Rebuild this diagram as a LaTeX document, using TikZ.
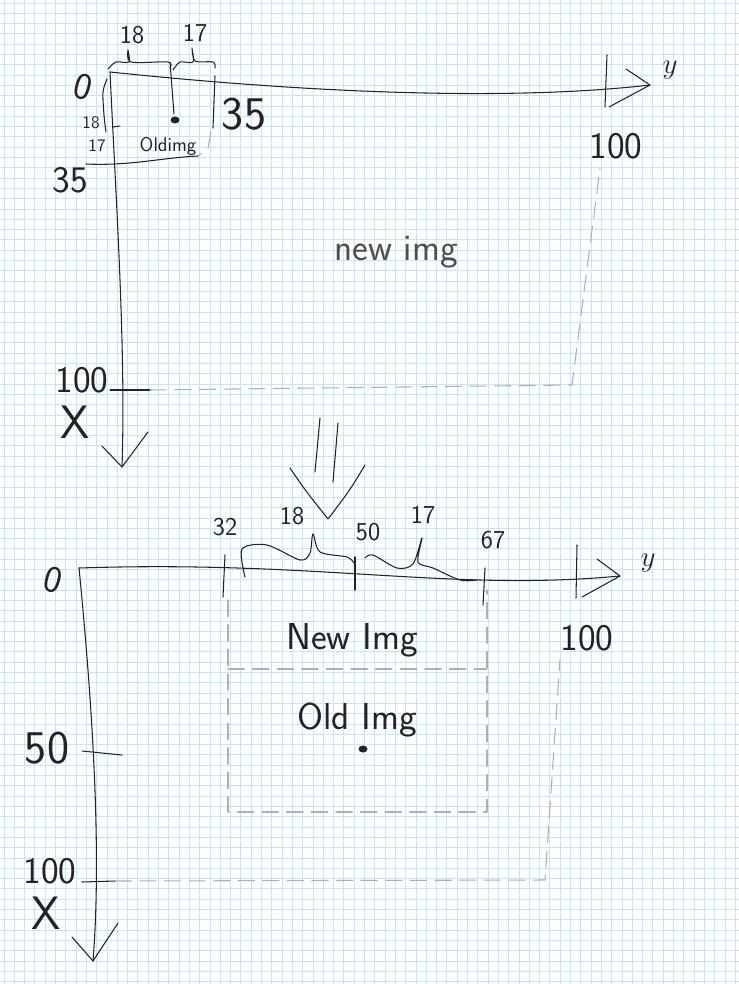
\documentclass[tikz,border=0pt]{standalone}
\usepackage{tikz}
\usetikzlibrary{positioning}
\definecolor{ink}{RGB}{35,35,35}
\definecolor{pencil}{RGB}{175,175,175}
\definecolor{gridblue}{RGB}{196,231,248}

\begin{document}
\begin{tikzpicture}[x=0.03cm, y=-0.03cm, line cap=round, line join=round,
      stroke/.style={draw=ink, line width=0.9pt},
      faint/.style={draw=pencil, line width=0.9pt, dash pattern=on 14pt off 7pt},
      txt/.style={text=ink, inner sep=0pt, font=\sffamily\fontsize{22}{22}\selectfont},
      tiny/.style={txt, font=\sffamily\fontsize{15}{15}\selectfont},
      big/.style={txt, font=\sffamily\fontsize{32}{32}\selectfont},
      huge/.style={txt, font=\sffamily\fontsize{40}{40}\selectfont}]
      \useasboundingbox (0,0) rectangle (739,984);
      \fill[white] (0,0) rectangle (739,984);
      % grid paper
      \foreach \i in {0,...,71}
        \draw[gridblue, line width=0.7pt] (4+\i*10.3,0) -- (4+\i*10.3,984);
      \foreach \j in {0,...,95}
        \draw[gridblue, line width=0.7pt] (0,3+\j*10.3) -- (739,3+\j*10.3);

      % top: axes
      \coordinate (o1) at (110,72);
      \coordinate (ytip1) at (650,85);
      \coordinate (xtip1) at (122,467);
      \draw[stroke] (o1) .. controls (330,95) and (520,100) .. (ytip1);
      \draw[stroke] (ytip1) ++(-24,-16) -- (ytip1) -- ++(-41,22);
      \draw[stroke] (o1) .. controls (116,200) and (126,350) .. (xtip1);
      \draw[stroke] (xtip1) ++(-20,-21) -- (xtip1) -- ++(26,-35);
      \node[big, rotate=-15] (zero1) at (83,87) {0};
      \node[txt, font=\fontsize{28}{28}\selectfont] (y1) at (670,70) {$y$};
      \node[big] (hy1) at (616,146) {100};
      \node[big] (hx1) at (82,380) {100};
      \node[huge] (x1) at (75,422) {X};
      \draw[stroke] (607,55) -- (605,107);
      \draw[stroke] (110,390) -- (150,390);
      % top: new img border
      \coordinate (nc1) at (572,385);
      \coordinate (nt1) at (600,168);
      \draw[faint] (150,390) -- (nc1) -- (nt1);
      \node[big, text=ink!80] (new1) at (396,252) {new img};
      % top: old img in the corner
      \draw[stroke] (215,76) -- (213,128);
      \draw[faint] (211,132) -- (208,148) -- (198,156);
      \draw[stroke] (86,164) .. controls (130,166) and (160,158) .. (198,156);
      \draw[stroke] (170,62) -- (174,114);
      \fill[ink] (175,120) ellipse (4.5 and 3.5);
      \draw[stroke] plot[smooth] coordinates {(108,69) (116,62) (129,62) (128,50) (131,62) (168,62) (170,68)};
      \draw[stroke] plot[smooth] coordinates {(173,70) (180,62) (193,62) (192,48) (195,61) (213,62) (215,68)};
      \draw[stroke] plot[smooth] coordinates {(107,79) (103,92) (104,115) (106,132)};
      \draw[stroke] (113,127) -- (120,126);
      \node[txt] (a18) at (132,35) {18};
      \node[txt] (a17) at (195,33) {17};
      \node[tiny] (b18) at (91,123) {18};
      \node[tiny] (b17) at (97,146) {17};
      \node[huge] (c35) at (244,114) {35};
      \node[big] (d35) at (70,180) {35};
      \node[tiny, font=\sffamily\fontsize{17}{17}\selectfont] (old1) at (168,146) {Oldimg};

      % arrow between
      \draw[stroke] (320,418) -- (315,472);
      \draw[stroke] (338,423) -- (333,482);
      \coordinate (vtip) at (328,519);
      \draw[stroke] (290,468) .. controls (305,490) .. (vtip) .. controls (350,490) .. (365,465);

      % bottom: axes
      \coordinate (o2) at (79,568);
      \coordinate (ytip2) at (620,576);
      \coordinate (xtip2) at (93,961);
      \draw[stroke] (o2) .. controls (320,560) and (450,592) .. (ytip2);
      \draw[stroke] (ytip2) ++(-23,-17) -- (ytip2) -- ++(-38,21);
      \draw[stroke] (o2) .. controls (92,700) and (102,850) .. (xtip2);
      \draw[stroke] (xtip2) ++(-21,-24) -- (xtip2) -- ++(25,-38);
      \node[big, rotate=-15] (zero2) at (53,580) {0};
      \node[txt, font=\fontsize{28}{28}\selectfont] (y2) at (648,563) {$y$};
      \node[big] (hy2) at (587,638) {100};
      \node[huge] (f50) at (47,748) {50};
      \node[big] (hx2) at (50,871) {100};
      \node[huge] (x2) at (46,913) {X};
      \draw[stroke] (577,545) -- (576,598);
      \draw[stroke] (82,751) -- (122,755);
      \draw[stroke] (82,882) -- (115,881);
      % bottom: ticks on y
      \draw[stroke] (225,555) -- (223,597);
      \draw[stroke] (355,557) -- (355,590);
      \draw[stroke] (485,568) -- (483,605);
      \draw[stroke] plot[smooth] coordinates {(245,577) (242,549) (267,545) (300,560) (310,553) (313,534) (320,552) (347,557) (354,563)};
      \draw[stroke] plot[smooth] coordinates {(365,558) (373,555) (397,568) (413,564) (422,538) (418,562) (433,568) (460,580) (477,580)};
      \node[txt] (g32) at (225,527) {32};
      \node[txt] (g18) at (292,516) {18};
      \node[txt] (g50) at (368,532) {50};
      \node[txt] (g17) at (423,515) {17};
      \node[txt] (g67) at (493,540) {67};
      % bottom: new img border
      \coordinate (nc2) at (545,880);
      \coordinate (nt2) at (560,660);
      \draw[faint] (115,881) -- (nc2) -- (nt2);
      % bottom: old img box
      \draw[faint] (228,600) -- (228,812) -- (487,812) -- (487,590);
      \draw[faint] (228,669) -- (487,669);
      \node[big] (new2) at (352,640) {New Img};
      \node[big] (old2) at (357,720) {Old Img};
      \fill[ink] (363,749) ellipse (4.5 and 3.5);
\end{tikzpicture}
\end{document}
